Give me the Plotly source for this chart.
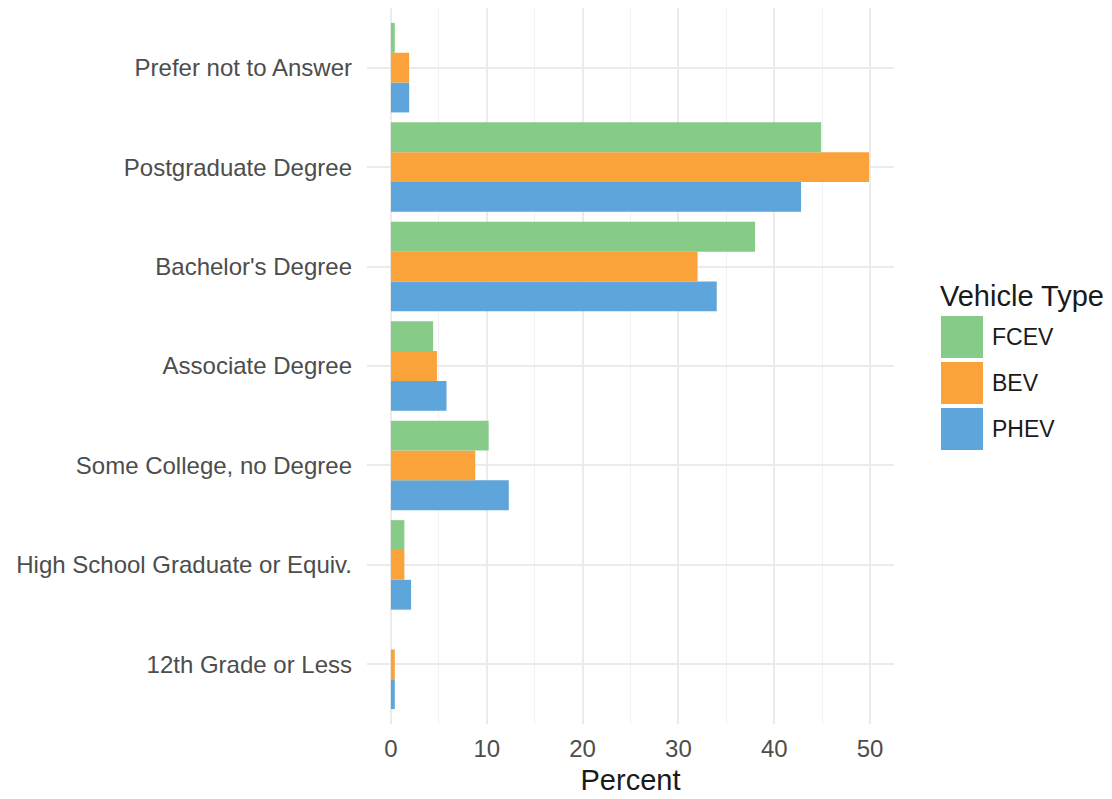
import plotly.graph_objects as go

# Education level (bottom to top on the chart)
education = [
    "12th Grade or Less",
    "High School Graduate or Equiv.",
    "Some College, no Degree",
    "Associate Degree",
    "Bachelor's Degree",
    "Postgraduate Degree",
    "Prefer not to Answer",
]

# Percent of respondents by vehicle type
phev = [0.4, 2.1, 12.3, 5.8, 34.0, 42.8, 1.9]
bev = [0.4, 1.4, 8.8, 4.8, 32.0, 49.9, 1.9]
fcev = [0.0, 1.4, 10.2, 4.4, 38.0, 44.9, 0.4]

series = [("PHEV", phev, "#5DA5DA"), ("BEV", bev, "#F9A33A"), ("FCEV", fcev, "#87CB89")]

W, H = 1112, 799
M_L, M_R, M_T, M_B = 367, 218, 8, 75

fig = go.Figure()
for name, vals, color in series:
    fig.add_trace(go.Bar(
        y=education, x=vals, name=name, orientation="h",
        marker=dict(color=color, line=dict(width=0)),
        showlegend=False,
    ))

tick_font = dict(family="Liberation Sans, Arial, sans-serif", size=24, color="#4D4D4D")

fig.update_layout(
    width=W, height=H,
    margin=dict(l=M_L, r=M_R, t=M_T, b=M_B, pad=0),
    barmode="group", bargap=0.1, bargroupgap=0,
    plot_bgcolor="white", paper_bgcolor="white",
    font=dict(family="Liberation Sans, Arial, sans-serif"),
    xaxis=dict(
        range=[-2.5, 52.5], tickvals=[0, 10, 20, 30, 40, 50],
        showgrid=True, gridcolor="#EBEBEB", gridwidth=1.6,
        minor=dict(tickvals=[5, 15, 25, 35, 45], showgrid=True, gridcolor="#F2F2F2", gridwidth=1),
        zeroline=False, showline=False, ticks="",
        tickfont=tick_font, ticklabelstandoff=8,
        title=dict(text="Percent", font=dict(size=29, color="#1A1A1A"), standoff=8),
    ),
    yaxis=dict(
        categoryorder="array", categoryarray=education,
        range=[-0.6, 6.6],
        showgrid=True, gridcolor="#EBEBEB", gridwidth=1.6,
        zeroline=False, showline=False, ticks="",
        tickfont=tick_font, ticklabelstandoff=14,
    ),
)

# Legend drawn as large key squares beside the panel
def px_x(x):
    return (x - M_L) / (W - M_L - M_R)

def px_y(y):
    return 1 - (y - M_T) / (H - M_T - M_B)

fig.add_annotation(
    x=px_x(938), y=px_y(296), xref="paper", yref="paper",
    text="Vehicle Type", showarrow=False, xanchor="left", yanchor="middle",
    font=dict(size=29, color="#1A1A1A"),
)
key_top = 316
for i, (name, _, color) in enumerate(reversed(series)):
    y0 = key_top + i * 46
    fig.add_shape(
        type="rect", xref="paper", yref="paper",
        x0=px_x(941), x1=px_x(983), y0=px_y(y0), y1=px_y(y0 + 42),
        fillcolor=color, line=dict(width=0),
    )
    fig.add_annotation(
        x=px_x(990), y=px_y(y0 + 21), xref="paper", yref="paper",
        text=name, showarrow=False, xanchor="left", yanchor="middle",
        font=dict(size=23, color="#1A1A1A"),
    )

fig.write_html("out.html")
